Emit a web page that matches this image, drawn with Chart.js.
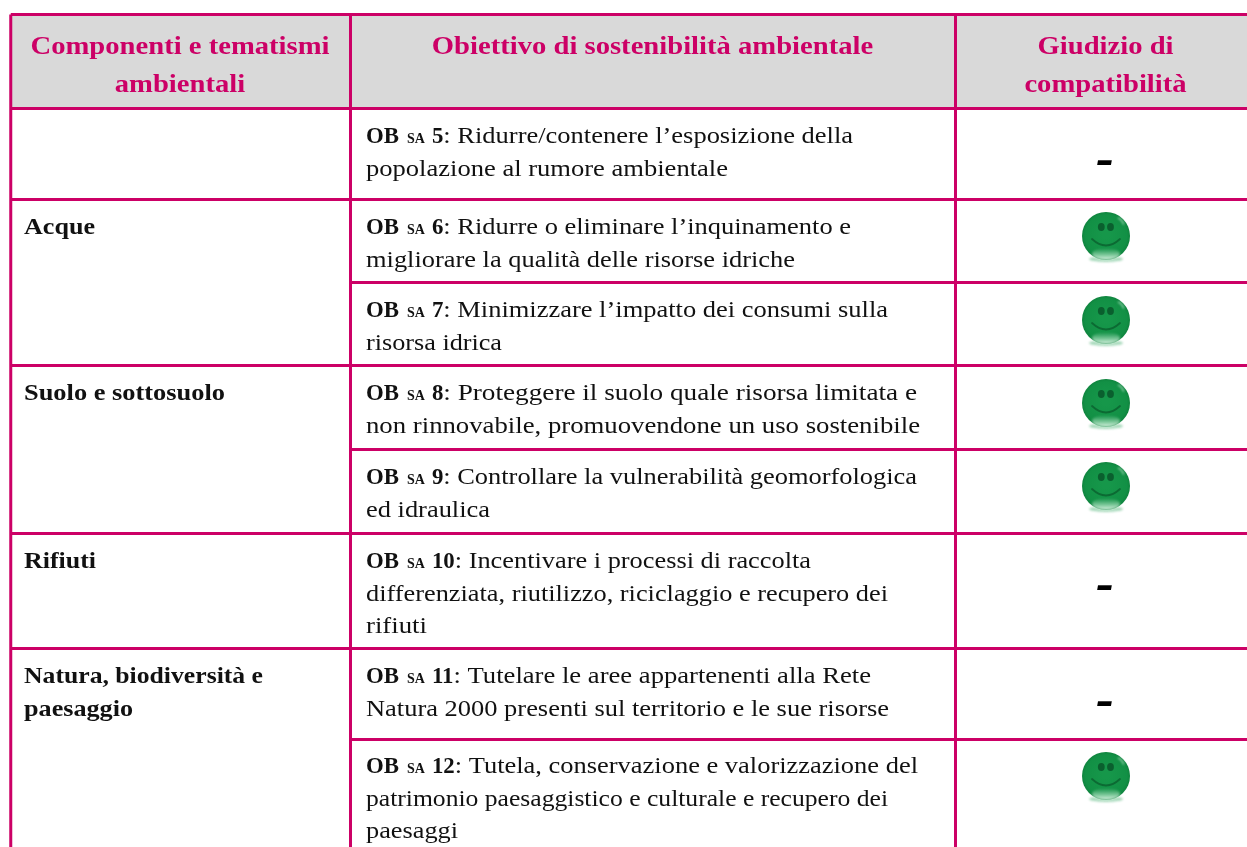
<!DOCTYPE html>
<html>
<head>
<meta charset="utf-8">
<style>
  html, body { margin: 0; padding: 0; background: #fff; }
  canvas { display: block; }
</style>
<script src="https://cdn.jsdelivr.net/npm/chart.js@4"></script>
</head>
<body>
<canvas id="table" width="1247" height="847"></canvas>
<script>
const columnEdges = [10.75, 350.5, 955.5, 1250];
const rowEdges = [14.5, 108.5, 199.5, 282.5, 365.5, 449.5, 533.5, 648.5, 739.5, 860];

const headers = [
  ['Componenti e tematismi', 'ambientali'],
  ['Obiettivo di sostenibilità ambientale'],
  ['Giudizio di', 'compatibilità']
];
const headerCenters = [180, 652.5, 1105.5];

// component label and the row it starts on (row 0 = first body row)
const components = [['Acque'], ['Suolo e sottosuolo'], ['Rifiuti'], ['Natura, biodiversità e', 'paesaggio']];
const componentRows = [1, 3, 5, 6];
const componentEnds = [[95], [225], [96], [263, 133]];

const objectiveCodes = ['5', '6', '7', '8', '9', '10', '11', '12'];
const objectiveLines = [
  [': Ridurre/contenere l’esposizione della', 'popolazione al rumore ambientale'],
  [': Ridurre o eliminare l’inquinamento e', 'migliorare la qualità delle risorse idriche'],
  [': Minimizzare l’impatto dei consumi sulla', 'risorsa idrica'],
  [': Proteggere il suolo quale risorsa limitata e', 'non rinnovabile, promuovendone un uso sostenibile'],
  [': Controllare la vulnerabilità geomorfologica', 'ed idraulica'],
  [': Incentivare i processi di raccolta', 'differenziata, riutilizzo, riciclaggio e recupero dei', 'rifiuti'],
  [': Tutelare le aree appartenenti alla Rete', 'Natura 2000 presenti sul territorio e le sue risorse'],
  [': Tutela, conservazione e valorizzazione del', 'patrimonio paesaggistico e culturale e recupero dei', 'paesaggi']
];
// where each printed line ends, the font here is narrower than the original
const objectiveEnds = [[853, 728], [851, 795], [888, 502], [917, 920], [917, 490], [811, 888, 427], [871, 889], [918, 888, 458]];
const objectiveBaselines = [143, 234, 317, 400, 484, 568, 683, 773];

const verdicts = ['-', 'ok', 'ok', 'ok', 'ok', '-', '-', 'ok'];
const verdictY = [160, 236, 320, 403, 486, 585, 701, 776];
const verdictX = 1106;

const PINK = '#cc0066';
const SERIF = '"Liberation Serif", serif';

// the smiley used as point style
function makeSmiley() {
  const c = document.createElement('canvas');
  c.width = 60; c.height = 60;
  const g = c.getContext('2d');
  g.translate(30, 30);

  g.filter = 'blur(1px)';
  g.fillStyle = 'rgba(60,170,105,0.45)';
  g.beginPath(); g.ellipse(0, 23, 17, 3, 0, 0, Math.PI * 2); g.fill();

  g.filter = 'blur(0.6px)';
  const body = g.createRadialGradient(0, -2, 4, 0, 0, 25);
  body.addColorStop(0, '#16974a');
  body.addColorStop(0.8, '#129045');
  body.addColorStop(1, '#0e803c');
  g.fillStyle = body;
  g.beginPath(); g.arc(0, 0, 24, 0, Math.PI * 2); g.fill();

  g.filter = 'blur(1.2px)';
  const low = g.createLinearGradient(0, 12, 0, 24);
  low.addColorStop(0, 'rgba(190,240,210,0)');
  low.addColorStop(1, 'rgba(235,252,240,0.95)');
  g.fillStyle = low;
  g.beginPath(); g.ellipse(0, 18, 14, 6, 0, 0, Math.PI * 2); g.fill();

  g.filter = 'blur(0.7px)';
  g.fillStyle = '#0a5f2e';
  g.beginPath(); g.ellipse(-4.7, -9, 3.4, 4, 0, 0, Math.PI * 2); g.fill();
  g.beginPath(); g.ellipse(4.5, -9, 3.4, 4, 0, 0, Math.PI * 2); g.fill();
  g.strokeStyle = '#0c6a33'; g.lineWidth = 1.8; g.lineCap = 'round';
  g.beginPath(); g.moveTo(-14, 3); g.quadraticCurveTo(0, 16, 14, 3); g.stroke();

  g.filter = 'blur(1px)';
  g.strokeStyle = 'rgba(210,245,225,0.6)'; g.lineWidth = 1.6;
  g.beginPath(); g.arc(8, -9, 10, -1.1, -0.3); g.stroke();
  return c;
}

function rule(x0, x1, y0, y1) {
  return {
    type: 'line',
    data: [{ x: x0, y: y0 }, { x: x1, y: y1 }],
    borderColor: PINK,
    borderWidth: 3,
    pointRadius: 0,
    order: 2
  };
}

const last = rowEdges.length - 1;
const datasets = [];

// grey header band
datasets.push({
  type: 'line',
  data: [{ x: columnEdges[0], y: rowEdges[1] }, { x: columnEdges[3], y: rowEdges[1] }],
  borderWidth: 0,
  pointRadius: 0,
  backgroundColor: '#d9d9d9',
  fill: { value: rowEdges[0] },
  order: 3
});

// horizontal rules: the first column skips rows that share a component
rowEdges.slice(0, last).forEach(function (y, i) {
  const inner = i === 3 || i === 5 || i === 8;
  datasets.push(rule(inner ? columnEdges[1] : columnEdges[0], columnEdges[3], y, y));
});
// vertical rules
columnEdges.slice(0, 3).forEach(function (x) {
  datasets.push(rule(x, x, rowEdges[0], rowEdges[last]));
});

datasets.push({
  type: 'scatter',
  data: verdicts.map(function (v, i) {
    return { x: verdictX, y: verdictY[i], v: v };
  }).filter(function (p) { return p.v === 'ok'; }),
  pointStyle: makeSmiley(),
  order: 1
});

function fitted(ctx, font, sample, target) {
  ctx.font = font;
  return target / ctx.measureText(sample).width;
}

const tableText = {
  id: 'tableText',
  afterDatasetsDraw: function (chart) {
    const ctx = chart.ctx;
    const x = chart.scales.x;
    const y = chart.scales.y;
    const regular = '24px ' + SERIF;
    const bold = 'bold 23px ' + SERIF;
    const small = 'bold 14px ' + SERIF;
    const head = 'bold 25.5px ' + SERIF;
    const lead = 32.7;

    const sxCode = fitted(ctx, bold, 'OB', 33);
    const sxHead = fitted(ctx, head, 'Componenti e tematismi', 299);

    function put(text, px, py, font, color, sx, align) {
      ctx.save();
      ctx.font = font;
      ctx.fillStyle = color;
      ctx.textBaseline = 'alphabetic';
      ctx.textAlign = align || 'left';
      ctx.translate(px, py);
      ctx.scale(sx, 1);
      ctx.fillText(text, 0, 0);
      const w = ctx.measureText(text).width * sx;
      ctx.restore();
      return px + w;
    }

    // header
    headers.forEach(function (lines, c) {
      lines.forEach(function (t, i) {
        put(t, x.getPixelForValue(headerCenters[c]), y.getPixelForValue(53.5 + i * 38), head, PINK, sxHead, 'center');
      });
    });

    // first column
    components.forEach(function (label, i) {
      const base = objectiveBaselines[componentRows[i]];
      label.forEach(function (t, j) {
        const left = x.getPixelForValue(24);
        const sx = fitted(ctx, bold, t, x.getPixelForValue(componentEnds[i][j]) - left);
        put(t, left, y.getPixelForValue(base + j * lead), bold, '#111', sx);
      });
    });

    // objectives
    objectiveLines.forEach(function (lines, i) {
      lines.forEach(function (t, j) {
        const py = y.getPixelForValue(objectiveBaselines[i] + j * lead);
        let px = x.getPixelForValue(366);
        if (j === 0) {
          px = put('OB', px, py, bold, '#111', sxCode);
          px = put('SA', px + 8, py, small, '#111', 1);
          px = put(objectiveCodes[i], px + 7, py, bold, '#111', sxCode);
        }
        const sx = fitted(ctx, regular, t, x.getPixelForValue(objectiveEnds[i][j]) - px);
        put(t, px, py, regular, '#111', sx);
      });
    });

    // dash verdicts
    verdicts.forEach(function (v, i) {
      if (v === '-') {
        put('-', x.getPixelForValue(1105), y.getPixelForValue(verdictY[i] + 16), 'italic bold 58px ' + SERIF, '#000', 0.92, 'center');
      }
    });
  }
};

new Chart(document.getElementById('table'), {
  data: { datasets: datasets },
  plugins: [tableText],
  options: {
    responsive: false,
    animation: false,
    layout: { padding: 0, autoPadding: false },
    plugins: { legend: { display: false }, tooltip: { enabled: false } },
    scales: {
      x: { type: 'linear', min: 0, max: 1247, display: false },
      y: { type: 'linear', min: 0, max: 847, reverse: true, display: false }
    }
  }
});
</script>
</body>
</html>
